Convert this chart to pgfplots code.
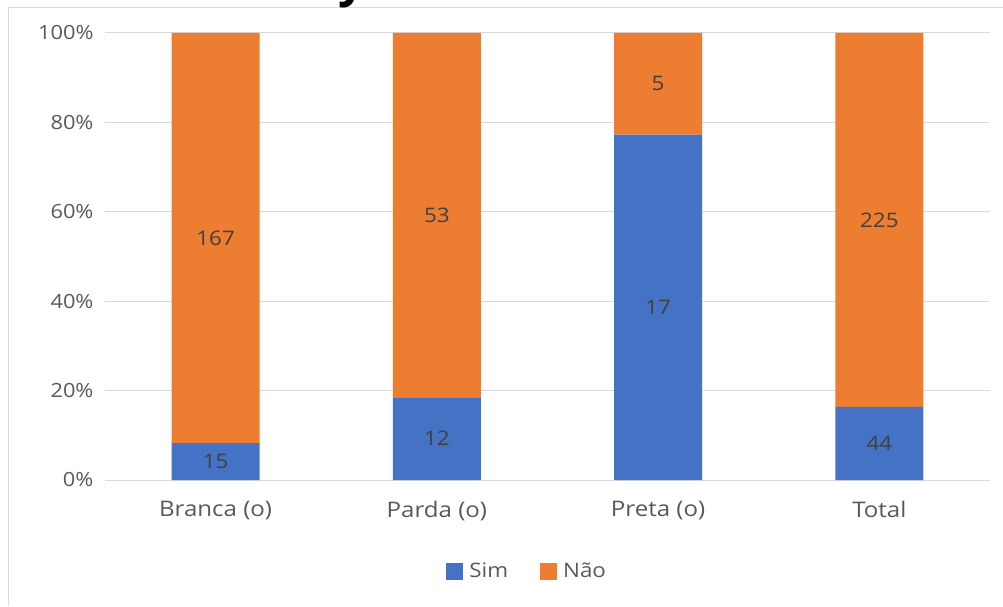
\documentclass[border=0pt]{standalone}
\usepackage{pgfplots}
\pgfplotsset{compat=1.18}
\usepackage{pgfplotstable}
\usepackage{fontspec}
\setmainfont[FakeStretch=1.12]{Open Sans}
\newfontfamily\titlefont{Open Sans}
\definecolor{cblue}{HTML}{4472C4}
\definecolor{corange}{HTML}{ED7D31}
\definecolor{tickgray}{HTML}{595959}
\definecolor{labgray}{HTML}{404040}
\definecolor{gridgray}{HTML}{D9D9D9}

\pgfplotstableread{
x simpct sim naopct nao simmid naomid
0 8.2418 15 91.7582 167 4.1209 54.1209
1 18.4615 12 81.5385 53 9.2308 59.2308
2 77.2727 17 22.7273 5 38.6364 88.6364
3 16.3569 44 83.6431 225 8.1784 58.1784
}\data

\begin{document}
\begin{tikzpicture}[x=1pt,y=1pt]
\path[use as bounding box, fill=white] (0,0) rectangle (1003,606);
\draw[gridgray, line width=1pt] (8,0) -- (8,598) -- (1003,598);
\begin{scope}
\clip (0,0) rectangle (1003,606);
\node[font=\titlefont\bfseries\fontsize{48}{48}\selectfont, anchor=base, inner sep=0pt] at (352,609) {y};
\end{scope}
\begin{axis}[
  at={(105pt,126pt)}, anchor=south west,
  scale only axis, width=885pt, height=447pt,
  ybar stacked, bar width=88pt,
  xmin=-0.5, xmax=3.5, ymin=0, ymax=100,
  xtick={0,1,2,3},
  xticklabels={Branca (o),Parda (o),Preta (o),Total},
  ytick={0,20,...,100},
  /pgf/number format/assume math mode=true,
  yticklabel={\pgfmathprintnumber{\tick}\%},
  ymajorgrids, grid style={gridgray, line width=1pt},
  axis line style={draw=none},
  major tick length=0pt,
  yticklabel style={font=\fontsize{19.5}{21}\selectfont, text=tickgray, xshift=-8pt},
  xticklabel style={font=\fontsize{21.5}{23}\selectfont, text=tickgray, yshift=-18pt},
  legend style={at={(0.477,-0.2036)}, anchor=center, draw=none, fill=none,
    legend columns=-1, font=\fontsize{20}{21}\selectfont, text=tickgray,
    /tikz/every even column/.append style={column sep=30pt},
    /tikz/every odd column/.append style={column sep=4pt},
    legend cell align=left},
  legend image code/.code={\fill[#1, draw=none] (0pt,-8.5pt) rectangle (17pt,8.5pt);},
]
\addplot[fill=cblue, draw=none] table[x=x, y=simpct]{\data};
\addplot[fill=corange, draw=none] table[x=x, y=naopct]{\data};
\legend{Sim, Não}
\end{axis}
\begin{axis}[
  at={(105pt,126pt)}, anchor=south west,
  scale only axis, width=885pt, height=447pt,
  xmin=-0.5, xmax=3.5, ymin=0, ymax=100,
  hide axis,
  nodes near coords, point meta=explicit symbolic,
  nodes near coords style={anchor=center, font=\fontsize{20}{21}\selectfont, text=labgray},
]
\addplot[draw=none, mark=none] table[x=x, y=simmid, meta=sim]{\data};
\addplot[draw=none, mark=none] table[x=x, y=naomid, meta=nao]{\data};
\end{axis}
\end{tikzpicture}
\end{document}
